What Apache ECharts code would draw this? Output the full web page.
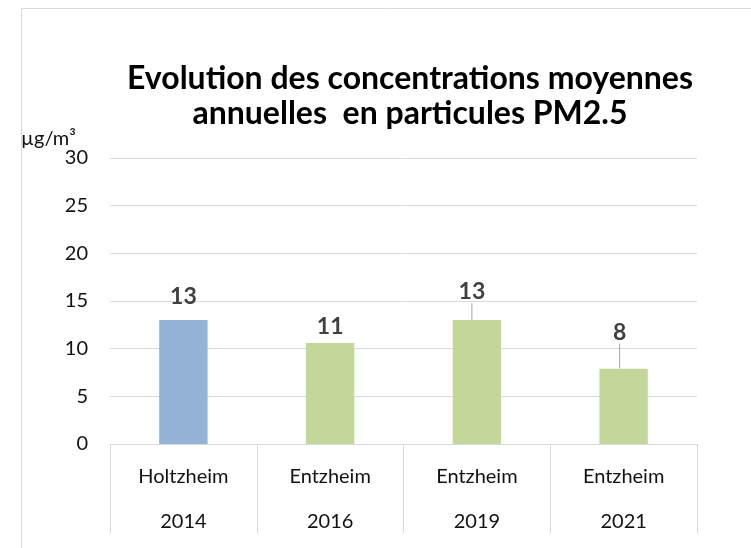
<!DOCTYPE html>
<html>
<head>
<meta charset="utf-8">
<script src="https://cdn.jsdelivr.net/npm/echarts@6/dist/echarts.min.js"></script>
<style>
  html, body { margin: 0; padding: 0; background: #ffffff; }
  #chart { width: 751px; height: 548px; }
</style>
</head>
<body>
<div id="chart"></div>
<script>
// Annual mean PM2.5 concentrations per measuring site
const sites = ['Holtzheim', 'Entzheim', 'Entzheim', 'Entzheim'];
const years = ['2014', '2016', '2019', '2021'];
const pm25 = [13, 10.6, 13, 7.9];
const barColors = ['#95b3d7', '#c4d79b', '#c4d79b', '#c4d79b'];
const yTicks = { min: 0, max: 30, interval: 5 };

const FONT = 'Lato';

// labels for the two later values sit above and aside, joined by a leader line
const labelShift = [null, null, { dx: -5, dy: -12 }, { dx: -4, dy: -20 }];
const labelDistance = [12, 5, 5, 5];

const chart = echarts.init(document.getElementById('chart'), null, { renderer: 'canvas' });

chart.setOption({
  backgroundColor: '#ffffff',
  animation: false,
  title: {
    text: 'Evolution des concentrations moyennes\nannuelles  en particules PM2.5',
    left: 405,
    top: 56,
    textAlign: 'center',
    textStyle: {
      fontFamily: FONT,
      fontSize: 32,
      fontWeight: 'bold',
      color: '#000000',
      lineHeight: 35
    }
  },
  graphic: [{
    type: 'rect',
    shape: { x: 21.5, y: 8.5, width: 900, height: 700 },
    style: { fill: 'none', stroke: '#d9d9d9', lineWidth: 1 },
    silent: true
  }],
  grid: { left: 110, right: 54, top: 158, bottom: 104 },
  xAxis: {
    type: 'category',
    data: sites.map((s, i) => s + '\n' + years[i]),
    axisLine: { lineStyle: { color: '#d9d9d9', width: 1 } },
    axisTick: { show: true, length: 89, lineStyle: { color: '#d9d9d9', width: 1 } },
    axisLabel: {
      fontFamily: FONT,
      fontSize: 20,
      color: '#111111',
      lineHeight: 45,
      margin: 10,
      interval: 0
    }
  },
  yAxis: {
    type: 'value',
    min: yTicks.min,
    max: yTicks.max,
    interval: yTicks.interval,
    name: 'µg/m³',
    nameLocation: 'end',
    nameGap: 18,
    nameTextStyle: {
      fontFamily: FONT,
      fontSize: 20,
      color: '#111111',
      align: 'right',
      verticalAlign: 'middle',
      padding: [0, 34, 0, 0]
    },
    axisLine: { show: false },
    axisTick: { show: false },
    axisLabel: {
      fontFamily: FONT,
      fontSize: 20,
      color: '#111111',
      margin: 22
    },
    splitLine: { lineStyle: { color: '#d9d9d9', width: 1 } }
  },
  series: [{
    type: 'bar',
    barWidth: '33%',
    data: pm25.map((v, i) => ({
      value: v,
      itemStyle: { color: barColors[i] },
      label: { distance: labelDistance[i] },
      labelLine: { show: labelShift[i] !== null }
    })),
    label: {
      show: true,
      position: 'top',
      fontFamily: FONT,
      fontSize: 23,
      fontWeight: 'bold',
      color: '#404040',
      formatter: p => Math.round(p.value)
    },
    labelLine: {
      lineStyle: { color: '#a6a6a6', width: 1 }
    },
    labelLayout: function (p) {
      const s = labelShift[p.dataIndex];
      return s ? { dx: s.dx, dy: s.dy } : {};
    }
  }]
});
</script>
</body>
</html>
